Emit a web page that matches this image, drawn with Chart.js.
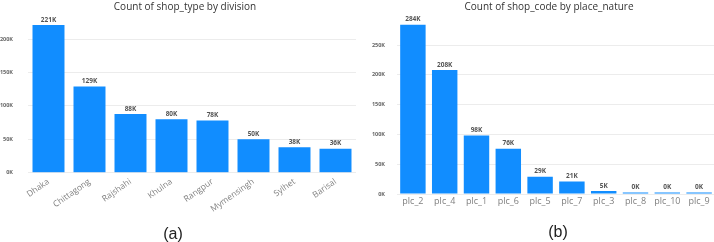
<!DOCTYPE html>
<html>
<head>
<meta charset="utf-8">
<script src="https://cdn.jsdelivr.net/npm/chart.js@4.4.1/dist/chart.umd.min.js"></script>
<style>
  html, body { margin: 0; padding: 0; background: #fff; width: 714px; height: 242px; overflow: hidden; position: relative; }
  canvas { position: absolute; }
  .title { position: absolute; font-family: "Open Sans", sans-serif; font-size: 10px; color: #333; white-space: nowrap; transform: translateX(-50%); }
  .caption { position: absolute; font-family: "Liberation Sans", sans-serif; font-size: 16px; color: #222; transform: translateX(-50%); }
</style>
</head>
<body>
<canvas id="divisionChart" width="356" height="242" style="left:0; top:0;"></canvas>
<canvas id="placeChart" width="355" height="242" style="left:360px; top:0;"></canvas>
<div class="title" style="left:185px; top:-1px;">Count of shop_type by division</div>
<div class="title" style="left:549px; top:-1px;">Count of shop_code by place_nature</div>
<div class="caption" style="left:173px; top:225px;">(a)</div>
<div class="caption" style="left:558px; top:223px;">(b)</div>
<script>
// Dados
const divisions = ['Dhaka', 'Chittagong', 'Rajshahi', 'Khulna', 'Rangpur', 'Mymensingh', 'Sylhet', 'Barisal'];
const divisionCounts = [221000, 129000, 88000, 80000, 78000, 50000, 38000, 36000];
const divisionTicks = [0, 50000, 100000, 150000, 200000];

const placeNatures = ['plc_2', 'plc_4', 'plc_1', 'plc_6', 'plc_5', 'plc_7', 'plc_3', 'plc_8', 'plc_10', 'plc_9'];
const placeCounts = [284000, 208000, 98000, 76000, 29000, 21000, 5000, 400, 300, 200];
const placeTicks = [0, 50000, 100000, 150000, 200000, 250000];

const BLUE = '#118DFF';

// Plugin simples para escrever os rótulos acima das barras
const barLabels = {
    id: 'barLabels',
    afterDatasetsDraw(chart) {
        const ctx = chart.ctx;
        const meta = chart.getDatasetMeta(0);
        const values = chart.data.datasets[0].data;
        ctx.save();
        ctx.font = 'bold 6.5px "Open Sans", sans-serif';
        ctx.fillStyle = '#555';
        ctx.textAlign = 'center';
        ctx.textBaseline = 'bottom';
        meta.data.forEach((bar, i) => {
            ctx.fillText(Math.round(values[i] / 1000) + 'K', bar.x, bar.y - 2);
        });
        ctx.restore();
    }
};

function makeChart(id, labels, values, tickValues, opts) {
    return new Chart(document.getElementById(id).getContext('2d'), {
        type: 'bar',
        data: {
            labels: labels,
            datasets: [{
                data: values,
                backgroundColor: BLUE,
                borderWidth: 0,
                categoryPercentage: 1,
                barPercentage: opts.barPct,
                minBarLength: 1.5
            }]
        },
        options: {
            responsive: false,
            animation: false,
            layout: { padding: { top: opts.top, left: 0, right: 0, bottom: 0 } },
            plugins: { legend: { display: false }, tooltip: { enabled: false } },
            scales: {
                x: {
                    grid: { display: false, drawTicks: false },
                    border: { display: false },
                    ticks: {
                        autoSkip: false,
                        minRotation: opts.rotation,
                        maxRotation: opts.rotation,
                        padding: opts.xPad,
                        color: '#808080',
                        font: { family: '"Open Sans", sans-serif', size: opts.xFont }
                    },
                    afterFit(scale) { scale.height = opts.xHeight; }
                },
                y: {
                    min: 0,
                    max: opts.max,
                    border: { display: false },
                    grid: { color: '#ececec', drawTicks: false },
                    ticks: {
                        padding: opts.yPad,
                        color: '#666',
                        font: { family: '"Open Sans", sans-serif', size: 5.5, weight: 'bold' },
                        callback: v => (v / 1000) + 'K'
                    },
                    afterBuildTicks(scale) { scale.ticks = tickValues.map(v => ({ value: v })); },
                    afterFit(scale) { scale.width = opts.yWidth; }
                }
            }
        },
        plugins: [barLabels]
    });
}

makeChart('divisionChart', divisions, divisionCounts, divisionTicks, {
    barPct: 0.78, top: 19, max: 230000, rotation: 35, xPad: 4, xFont: 8.5,
    xHeight: 69.3, yWidth: 28, yPad: 15
});

makeChart('placeChart', placeNatures, placeCounts, placeTicks, {
    barPct: 0.8, top: 13.4, max: 300000, rotation: 0, xPad: 2, xFont: 9,
    xHeight: 48, yWidth: 37, yPad: 12
});
</script>
</body>
</html>
